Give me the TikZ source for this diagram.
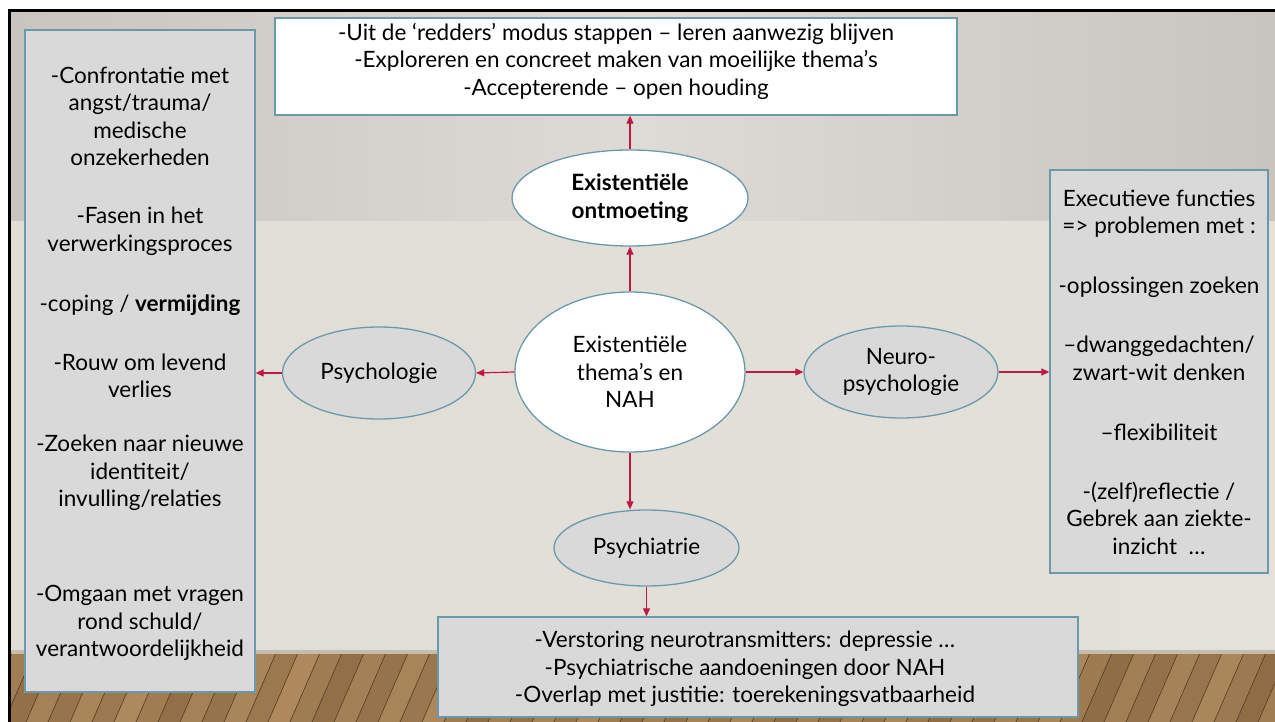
\documentclass[tikz,border=0pt]{standalone}
\usepackage{fontspec}
\setmainfont{Lato}
\usetikzlibrary{shapes.geometric,arrows.meta}
\definecolor{bord}{RGB}{108,153,170}
\definecolor{boxg}{RGB}{217,217,217}
\definecolor{arr}{RGB}{192,24,64}
\definecolor{wallA}{RGB}{200,197,192}
\definecolor{wallB}{RGB}{222,219,214}
\definecolor{wallC}{RGB}{224,221,215}
\definecolor{wallD}{RGB}{228,225,219}
\definecolor{woodA}{RGB}{176,140,96}
\definecolor{woodB}{RGB}{128,94,56}
\definecolor{woodL}{RGB}{80,58,34}
\definecolor{baseb}{RGB}{196,188,175}
\begin{document}
\begin{tikzpicture}[x=1pt,y=-1pt,
  txt/.style={font=\fontsize{22.5}{27.5}\selectfont, align=center, inner sep=0, text=black},
  rbox/.style={draw=bord, line width=1.3pt, fill=boxg, inner sep=0},
  wbox/.style={rbox, fill=white},
  ell/.style={ellipse, draw=bord, line width=1.3pt, fill=boxg, inner sep=0, align=center, font=\fontsize{22.5}{27.5}\selectfont},
  well/.style={ell, fill=white},
  link/.style={draw=arr, line width=1.2pt, -{Triangle[length=8pt,width=7pt]}}]
\useasboundingbox (0,0) rectangle (1275,722);
% background
\fill[white] (0,0) rectangle (1275,722);
\shade[left color=wallA, right color=wallA, middle color=wallB] (9,11) rectangle (1275,222);
\shade[left color=wallC, right color=wallD] (9,222) rectangle (1275,653);
\begin{scope}
\clip (9,650) rectangle (1275,722);
\fill[woodA] (9,650) rectangle (1275,722);
\foreach \i in {0,...,62} {
  \pgfmathsetmacro\xa{-40+\i*22}
  \pgfmathtruncatemacro\m{30+mod(\i*37,65)}
  \fill[woodA!\m!woodB] (\xa,722) -- (\xa+30,653) -- (\xa+52,653) -- (\xa+22,722) -- cycle;
  \draw[woodL, line width=0.6pt] (\xa,722) -- (\xa+30,653);
}
\fill[baseb] (9,650) rectangle (1275,654);
\end{scope}
\draw[black, line width=3pt] (9,722) -- (9,11) -- (1275,11);

% boxes
\node[wbox, minimum width=682pt, minimum height=97pt] (T) at (616,66.5) {};
\node[txt] (Tt) at (616,61) {-Uit de ‘redders’ modus stappen – leren aanwezig blijven\\-Exploreren en concreet maken van moeilijke thema’s\\-Accepterende – open houding};

\node[rbox, minimum width=230pt, minimum height=662pt] (L) at (140,361) {};
\node[txt] (L1) at (140,116.5) {-Confrontatie met\\angst/trauma/\\medische\\onzekerheden};
\node[txt] (L2) at (140,231.5) {-Fasen in het\\verwerkingsproces};
\node[txt] (L3) at (140,305) {-coping / \textbf{vermijding}};
\node[txt] (L4) at (140,376) {-Rouw om levend\\verlies};
\node[txt] (L5) at (140,473) {-Zoeken naar nieuwe\\identiteit/\\invulling/relaties};
\node[txt] (L6) at (140,623) {-Omgaan met vragen\\rond schuld/\\verantwoordelijkheid};

\node[rbox, minimum width=218pt, minimum height=403pt] (R) at (1159,371.5) {};
\node[txt] (R1) at (1159,213.5) {Executieve functies\\=> problemen met :};
\node[txt] (R2) at (1159,287) {-oplossingen zoeken};
\node[txt] (R3) at (1159,358.5) {–dwanggedachten/\\zwart-wit denken};
\node[txt] (R4) at (1159,432) {–flexibiliteit};
\node[txt] (R5) at (1159,518) {-(zelf)reflectie /\\Gebrek aan ziekte-\\inzicht \ …};

\node[rbox, minimum width=640pt, minimum height=100pt] (B) at (758,667) {};
\node[txt] (Bt) at (745,669) {-Verstoring neurotransmitters: depressie …\\-Psychiatrische aandoeningen door NAH\\-Overlap met justitie: toerekeningsvatbaarheid};

% ellipses
\node[well, minimum width=236pt, minimum height=96pt] (EO) at (630,198) {\textbf{Existentiële}\\\textbf{ontmoeting}};
\node[well, minimum width=230pt, minimum height=160pt] (C) at (630,372) {Existentiële\\thema’s en\\NAH};
\node[ell, minimum width=193pt, minimum height=92pt] (P) at (379,373) {Psychologie};
\node[ell, minimum width=194pt, minimum height=92pt] (N) at (901,372) {Neuro-\\psychologie};
\node[ell, minimum width=185pt, minimum height=76pt] (PS) at (646.5,548) {Psychiatrie};

% connectors
\draw[link] (C.north) -- (EO.south);
\draw[link] (EO.north) -- (EO.north |- T.south);
\draw[link] (C.west) -- (P.east);
\draw[link] (P.west) -- (P.west -| L.east);
\draw[link] (C.east) -- (N.west);
\draw[link] (N.east) -- (N.east -| R.west);
\draw[link] (C.south) -- (C.south |- PS.north);
\draw[link] (PS.south) -- (PS.south |- B.north);
\end{tikzpicture}
\end{document}
